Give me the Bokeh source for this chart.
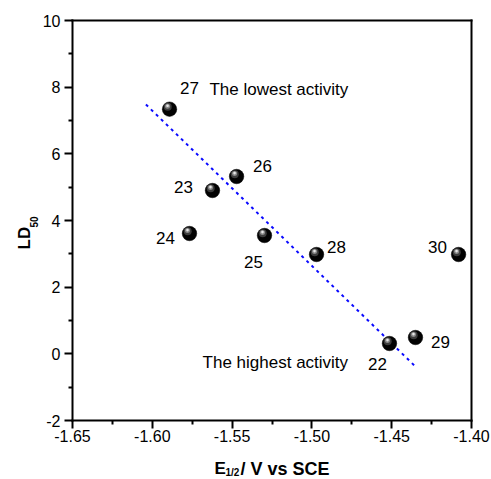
import numpy as np
from bokeh.plotting import figure
from bokeh.models import ColumnDataSource, Label, FixedTicker, Range1d, LinearAxis
from bokeh.core.properties import value
from bokeh.embed import file_html
from bokeh.resources import INLINE

# ---- data ----
compound = ["27", "23", "26", "24", "25", "28", "30", "22", "29"]
e_half = [-1.5892, -1.5623, -1.5472, -1.5767, -1.5297, -1.4971, -1.4081, -1.4514, -1.4351]
ld50 = [7.34, 4.90, 5.32, 3.61, 3.55, 2.98, 2.98, 0.31, 0.49]

fit_x = [-1.604, -1.4345]
fit_y = [7.48, -0.41]

x_ticks = [-1.65, -1.60, -1.55, -1.50, -1.45, -1.40]
x_tick_labels = ["-1.65", "-1.60", "-1.55", "-1.50", "-1.45", "-1.40"]
x_minor = [-1.625, -1.575, -1.525, -1.475, -1.425]
y_ticks = [-2, 0, 2, 4, 6, 8, 10]
y_tick_labels = ["-2", "0", "2", "4", "6", "8", "10"]
y_minor = [-1, 1, 3, 5, 7, 9]

# label offsets in screen pixels (dx right, dy down)
label_dx = [20, -29, 26, -24, -11, 20, -21, -12, 25]
label_dy = [-21, -4, -11, 4, 26, -8, -8, 20, 4]

# axis box (data) and its placement on the canvas (pixels)
X0, X1 = -1.65, -1.40
Y0, Y1 = -2, 10
W, H = 491, 479
BOX_L, BOX_R, BOX_T, BOX_B = 72, 471, 20, 420
kx = (BOX_R - BOX_L) / (X1 - X0)
ky = (BOX_B - BOX_T) / (Y1 - Y0)
FONT = "Liberation Sans"

p = figure(width=W, height=H, output_backend="svg", toolbar_location=None,
           x_range=Range1d(X0 - BOX_L / kx, X1 + (W - BOX_R) / kx),
           y_range=Range1d(Y0 - (H - BOX_B) / ky, Y1 + BOX_T / ky),
           x_axis_location=None, y_axis_location=None,
           min_border=0)
p.min_border_left = p.min_border_right = p.min_border_top = p.min_border_bottom = 0
p.background_fill_color = "white"
p.border_fill_color = "white"
p.outline_line_color = None
p.grid.visible = False


def style_axis(ax, ticks, minor, labels):
    ax.ticker = FixedTicker(ticks=ticks, minor_ticks=minor)
    ax.major_label_overrides = {t: l for t, l in zip(ticks, labels)}
    ax.major_tick_in = 0
    ax.major_tick_out = 8
    ax.minor_tick_in = 0
    ax.minor_tick_out = 4
    ax.major_tick_line_width = 2
    ax.minor_tick_line_width = 2
    ax.axis_line_width = 2
    ax.axis_line_cap = "square"
    ax.major_label_text_font = FONT
    ax.major_label_text_font_size = "16px"
    ax.major_label_text_color = "black"
    ax.major_label_standoff = 4


xaxis = LinearAxis(fixed_location=Y0, bounds=(X0, X1))
style_axis(xaxis, x_ticks, x_minor, x_tick_labels)
xaxis.major_label_standoff = 1
p.add_layout(xaxis, "below")

yaxis = LinearAxis(fixed_location=X0, bounds=(Y0, Y1))
style_axis(yaxis, y_ticks, y_minor, y_tick_labels)
p.add_layout(yaxis, "left")

# plain box lines on top and right
for loc, side, bnds in [(Y1, "above", (X0, X1)), (X1, "right", (Y0, Y1))]:
    ax = LinearAxis(fixed_location=loc, bounds=bnds, ticker=FixedTicker(ticks=[], minor_ticks=[]))
    ax.axis_line_width = 2
    ax.axis_line_cap = "square"
    ax.major_tick_out = 0
    ax.minor_tick_out = 0
    ax.major_label_text_font_size = "0px"
    p.add_layout(ax, side)

# fit line
p.line(fit_x, fit_y, line_color="#0a0aff", line_width=2, line_dash="3 4")

# spheres (base + highlight layers)
p.scatter(e_half, ld50, size=14.5, fill_color="#020202", line_color="#000000", line_width=0.5)
for size, col, ox, oy in [(8, "#3c3c3c", -1.8, -2.3), (5, "#8a8a8a", -2.0, -3.0), (2.6, "#e6e6e6", -2.0, -3.4)]:
    p.scatter([x + ox / kx for x in e_half], [y - oy / ky for y in ld50],
              size=size, fill_color=col, line_color=None)

src = ColumnDataSource(dict(x=e_half, y=ld50, t=compound, dx=label_dx, dy=label_dy))
p.text(x="x", y="y", text="t", x_offset="dx", y_offset="dy", source=src,
       text_font=value(FONT), text_font_size="17px", text_color="black",
       text_align="center", text_baseline="middle")

p.add_layout(Label(x=-1.5642, y=7.93, text="The lowest activity", text_font=FONT,
                   text_font_size="17px", text_color="black", text_baseline="middle"))
p.add_layout(Label(x=-1.5685, y=-0.26, text="The highest activity", text_font=FONT,
                   text_font_size="17px", text_color="black", text_baseline="middle"))


# axis titles (screen units: canvas pixels from the bottom-left)
def lab(x, y, text, size, angle=0.0):
    p.add_layout(Label(x=x, y=y, x_units="screen", y_units="screen", text=text,
                       text_font=FONT, text_font_size=size, text_font_style="bold",
                       text_color="black", angle=angle, text_baseline="alphabetic",
                       text_align="left"))


lab(214, H - 468, "E", "17px")
lab(225, H - 472, "1/2", "10px")
lab(240, H - 468, "/ V vs SCE", "18px")
lab(24, H - 249, "LD", "17px", np.pi / 2)
lab(33, H - 227, "50", "10px", np.pi / 2)

open("out.html", "w").write(file_html(p, INLINE))
